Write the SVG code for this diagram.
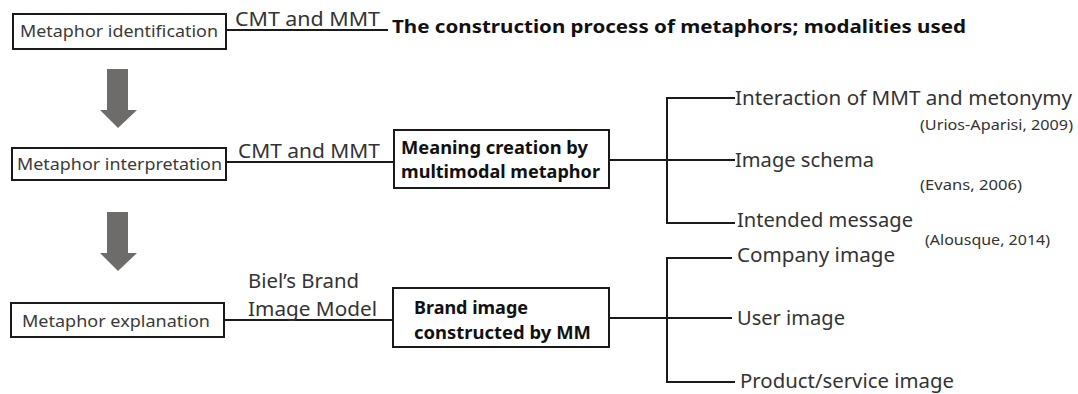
<svg xmlns="http://www.w3.org/2000/svg" width="1078" height="394" viewBox="0 0 1078 394">
  <defs>
    <style>
      .box { fill: #ffffff; stroke: #1a1a1a; stroke-width: 2; }
      .wire { fill: none; stroke: #1a1a1a; stroke-width: 2; }
      text { font-family: "Noto Sans", "Open Sans", sans-serif; }
      .step { font-size: 16px; fill: #3a3a3a; }
      .lbl { font-size: 19px; fill: #333333; }
      .bold { font-size: 17px; font-weight: bold; fill: #111111; }
      .head { font-size: 18px; font-weight: bold; fill: #111111; }
      .item { font-size: 19.5px; fill: #333333; }
      .cite { font-size: 13.5px; fill: #333333; }
      .flow { fill: #6e6b6b; }
    </style>
  </defs>

  <!-- connectors -->
  <g id="connectors">
    <line class="wire" x1="226" y1="30" x2="388" y2="30"/>
    <line class="wire" x1="226" y1="162" x2="394" y2="162"/>
    <line class="wire" x1="609" y1="160" x2="667" y2="160"/>
    <path class="wire" d="M735 98 H667 V223 H735 M667 160 H735"/>
    <line class="wire" x1="224" y1="320" x2="393" y2="320"/>
    <line class="wire" x1="609" y1="318" x2="667" y2="318"/>
    <path class="wire" d="M732 258 H667 V382 H735 M667 318 H732"/>
  </g>

  <!-- down arrows between steps -->
  <g id="flow-arrows">
    <polygon class="flow" points="107,69 128,69 128,110 137,110 118,128 100,110 107,110"/>
    <polygon class="flow" points="107,212 128,212 128,253 137,253 118,271 100,253 107,253"/>
  </g>

  <!-- step 1 -->
  <g id="identification">
    <rect class="box" x="13" y="14" width="213" height="35"/>
    <text class="step" x="20" y="37" textLength="198" lengthAdjust="spacingAndGlyphs">Metaphor identification</text>
  </g>
  <g id="identification-label">
    <text class="lbl" x="235" y="26" textLength="145" lengthAdjust="spacingAndGlyphs">CMT and MMT</text>
  </g>
  <g id="construction">
    <text class="head" x="392" y="33" textLength="574" lengthAdjust="spacingAndGlyphs">The construction process of metaphors; modalities used</text>
  </g>

  <!-- step 2 -->
  <g id="interpretation">
    <rect class="box" x="12" y="148" width="214" height="32"/>
    <text class="step" x="17" y="170" textLength="205" lengthAdjust="spacingAndGlyphs">Metaphor interpretation</text>
  </g>
  <g id="interpretation-label">
    <text class="lbl" x="238" y="158" textLength="142" lengthAdjust="spacingAndGlyphs">CMT and MMT</text>
  </g>
  <g id="meaning-creation">
    <rect class="box" x="394" y="130" width="215" height="58"/>
    <text class="bold" x="401" y="154" textLength="187" lengthAdjust="spacingAndGlyphs">Meaning creation by</text>
    <text class="bold" x="401" y="178" textLength="199" lengthAdjust="spacingAndGlyphs">multimodal metaphor</text>
  </g>
  <g id="interaction">
    <text class="item" x="735" y="105" textLength="337" lengthAdjust="spacingAndGlyphs">Interaction of MMT and metonymy</text>
    <text class="cite" x="920" y="130" textLength="153" lengthAdjust="spacingAndGlyphs">(Urios-Aparisi, 2009)</text>
  </g>
  <g id="image-schema">
    <text class="item" x="735" y="167" textLength="139" lengthAdjust="spacingAndGlyphs">Image schema</text>
    <text class="cite" x="920" y="190" textLength="102" lengthAdjust="spacingAndGlyphs">(Evans, 2006)</text>
  </g>
  <g id="intended-message">
    <text class="item" x="737" y="227" textLength="176" lengthAdjust="spacingAndGlyphs">Intended message</text>
    <text class="cite" x="925" y="245" textLength="125" lengthAdjust="spacingAndGlyphs">(Alousque, 2014)</text>
  </g>

  <!-- step 3 -->
  <g id="explanation">
    <rect class="box" x="11" y="303" width="213" height="34"/>
    <text class="step" x="22" y="327" textLength="188" lengthAdjust="spacingAndGlyphs">Metaphor explanation</text>
  </g>
  <g id="explanation-label">
    <text class="lbl" x="248" y="288" textLength="111" lengthAdjust="spacingAndGlyphs">Biel’s Brand</text>
    <text class="lbl" x="248" y="316" textLength="129" lengthAdjust="spacingAndGlyphs">Image Model</text>
  </g>
  <g id="brand-image">
    <rect class="box" x="393" y="288" width="216" height="59"/>
    <text class="bold" x="414" y="314" textLength="114" lengthAdjust="spacingAndGlyphs">Brand image</text>
    <text class="bold" x="414" y="339" textLength="177" lengthAdjust="spacingAndGlyphs">constructed by MM</text>
  </g>
  <g id="company-image">
    <text class="item" x="737" y="262" textLength="158" lengthAdjust="spacingAndGlyphs">Company image</text>
  </g>
  <g id="user-image">
    <text class="item" x="737" y="325" textLength="108" lengthAdjust="spacingAndGlyphs">User image</text>
  </g>
  <g id="product-image">
    <text class="item" x="740" y="388" textLength="214" lengthAdjust="spacingAndGlyphs">Product/service image</text>
  </g>
</svg>
